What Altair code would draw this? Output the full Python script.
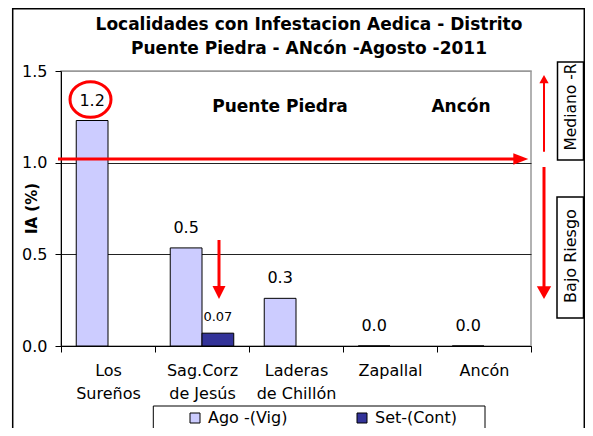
import altair as alt
import pandas as pd

# ---------------- data ----------------
categories = ["Los\nSureños", "Sag.Corz\nde Jesús", "Laderas\nde Chillón", "Zapallal", "Ancón"]
series = ["Ago -(Vig)", "Set-(Cont)"]
ago_values = [1.23, 0.535, 0.26, 0.0, 0.0]
set_values = [None, 0.07, None, None, None]
y_ticks = [0.0, 0.5, 1.0, 1.5]
title_lines = ["Localidades con Infestacion Aedica - Distrito",
               "Puente Piedra - ANcón -Agosto -2011"]
zone_labels = ["Puente Piedra", "Ancón"]
risk_labels = ["Mediano -R", "Bajo Riesgo"]
bar_colors = ["#CCCCFF", "#333399"]

rows = []
for c, a, s in zip(categories, ago_values, set_values):
    rows.append({"cat": c, "serie": series[0], "value": a})
    if s is not None:
        rows.append({"cat": c, "serie": series[1], "value": s})
df = pd.DataFrame(rows)

FONT = "DejaVu Sans"
W, H = 470, 275
OX, OY = 61, 71  # page position of plot origin


def px(x):
    return x - OX


def py(y):
    return y - OY


one = pd.DataFrame({"k": [0]})

x_enc = alt.X("cat:N", sort=categories,
              scale=alt.Scale(paddingInner=0, paddingOuter=0),
              axis=alt.Axis(title=None, labelExpr="split(datum.label, '\\n')",
                            tickBand="extent", labelAngle=0, labelFont=FONT,
                            labelFontSize=16, labelColor="black", labelLineHeight=23,
                            labelPadding=10, tickSize=6, tickColor="black",
                            domainColor="black", labelBaseline="top"))
xo_enc = alt.XOffset("serie:N", sort=series,
                     scale=alt.Scale(domain=series, paddingOuter=0.48, paddingInner=0))
y_enc = alt.Y("value:Q",
              scale=alt.Scale(domain=[0, 1.5], nice=False),
              axis=alt.Axis(values=y_ticks, format=".1f", title="IA (%)",
                            titleFont=FONT, titleFontSize=15, titleFontWeight="bold",
                            titleColor="black", titleX=-30, titleY=137,
                            titleBaseline="middle", titleAlign="center",
                            labelFont=FONT, labelFontSize=16, labelColor="black",
                            labelPadding=8, tickSize=6, tickColor="black",
                            domainColor="black",
                            gridColor={"condition": {"test": "datum.value >= 1.5",
                                                     "value": "#999999"},
                                       "value": "#222222"},
                            gridWidth=1))

base = alt.Chart(df)

bars = base.mark_bar(stroke="black", strokeWidth=1).encode(
    x=x_enc, xOffset=xo_enc, y=y_enc,
    color=alt.Color("serie:N", sort=series,
                    scale=alt.Scale(domain=series, range=bar_colors),
                    legend=alt.Legend(title=None, orient="none", legendX=126,
                                      legendY=339, direction="horizontal",
                                      symbolType="square", symbolSize=100,
                                      symbolStrokeColor="black", symbolStrokeWidth=1,
                                      labelFont=FONT, labelFontSize=16,
                                      labelColor="black", columnPadding=66,
                                      labelOffset=5, padding=0)))

labels_ago = base.transform_filter(alt.datum.serie == series[0]).mark_text(
    dy=-20, font=FONT, fontSize=16, color="black", baseline="middle").encode(
    x=x_enc, xOffset=xo_enc, y=y_enc, text=alt.Text("value:Q", format=".1f"))

labels_set = base.transform_filter(alt.datum.serie == series[1]).mark_text(
    dy=-16, font=FONT, fontSize=13, color="black", baseline="middle").encode(
    x=x_enc, xOffset=xo_enc, y=y_enc, text=alt.Text("value:Q", format=".2f"))


def rect(x1, y1, x2, y2, width=1.5, fill="white"):
    return alt.Chart(one).mark_rect(fill=fill, stroke="black", strokeWidth=width).encode(
        x=alt.value(px(x1)), x2=alt.value(px(x2)), y=alt.value(py(y1)), y2=alt.value(py(y2)))


def arrow(x1, y1, x2, y2, lx2, ly2, path, size, width):
    line = alt.Chart(one).mark_rule(color="red", strokeWidth=width).encode(
        x=alt.value(px(x1)), x2=alt.value(px(lx2)), y=alt.value(py(y1)), y2=alt.value(py(ly2)))
    head = alt.Chart(one).mark_point(shape=path, size=size, filled=True, fill="red",
                                     opacity=1, strokeWidth=0).encode(
        x=alt.value(px(x2)), y=alt.value(py(y2)))
    return [line, head]


def label(text, x, y, size=16, weight="normal", angle=0):
    return alt.Chart(one).mark_text(text=text, font=FONT, fontSize=size, fontWeight=weight,
                                    angle=angle, color="black", align="center",
                                    baseline="middle").encode(
        x=alt.value(px(x)), y=alt.value(py(y)))


frame = alt.Chart(one).mark_rect(fillOpacity=0, stroke="black", strokeWidth=1.5).encode(
    x=alt.value(px(12.7)), x2=alt.value(px(584.3)), y=alt.value(py(8.8)), y2=alt.value(py(460)))

legend_box = alt.Chart(one).mark_rect(fill="white", stroke="black", strokeWidth=1).encode(
    x=alt.value(px(153.3)), x2=alt.value(px(485)), y=alt.value(py(406)), y2=alt.value(py(460)))

layers = [frame, legend_box, bars, labels_ago, labels_set]

# annotations
layers.append(label(zone_labels[0], 280, 107, size=17, weight="bold"))
layers.append(label(zone_labels[1], 461, 107, size=17, weight="bold"))

circle = alt.Chart(one).mark_point(
    shape="M-1,0A1,0.87,0,1,0,1,0A1,0.87,0,1,0,-1,0Z", size=1681, filled=False,
    stroke="red", strokeWidth=3, opacity=1).encode(
    x=alt.value(px(90.5)), y=alt.value(py(99.5)))
layers.append(circle)

layers += arrow(58, 159, 528.3, 159, 516, 159, "M0,0L-2,-0.78L-2,0.78Z", 225, 3)
layers += arrow(544, 151.7, 544, 75, 544, 82, "M0,0L-1.12,2L1.12,2Z", 69, 2)
layers += arrow(544, 167, 544, 299, 544, 288, "M0,0L-1.13,-2L1.13,-2Z", 161, 3)
layers += arrow(219, 240, 219, 299, 219, 288, "M0,0L-1,-2L1,-2Z", 169, 3)

layers.append(rect(557.5, 62, 583.5, 160))
layers.append(label(risk_labels[0], 571, 107, size=15.5, angle=270))
layers.append(rect(557, 197, 583.5, 318))
layers.append(label(risk_labels[1], 570.5, 256, size=16, angle=270))

chart = alt.layer(*layers).properties(
    width=W, height=H,
    autosize=alt.AutoSizeParams(type="none"),
    padding={"left": 53, "top": 63, "right": 54, "bottom": 82},
    title=alt.TitleParams(text=title_lines, font=FONT, fontSize=17, fontWeight="bold",
                          anchor="middle", frame="group", lineHeight=24, offset=0,
                          dy=50, dx=13, color="black"),
    background="white",
).configure_view(stroke="#999999", strokeWidth=1.5)

chart.save("out.html", embed_options={"renderer": "svg", "actions": False})
